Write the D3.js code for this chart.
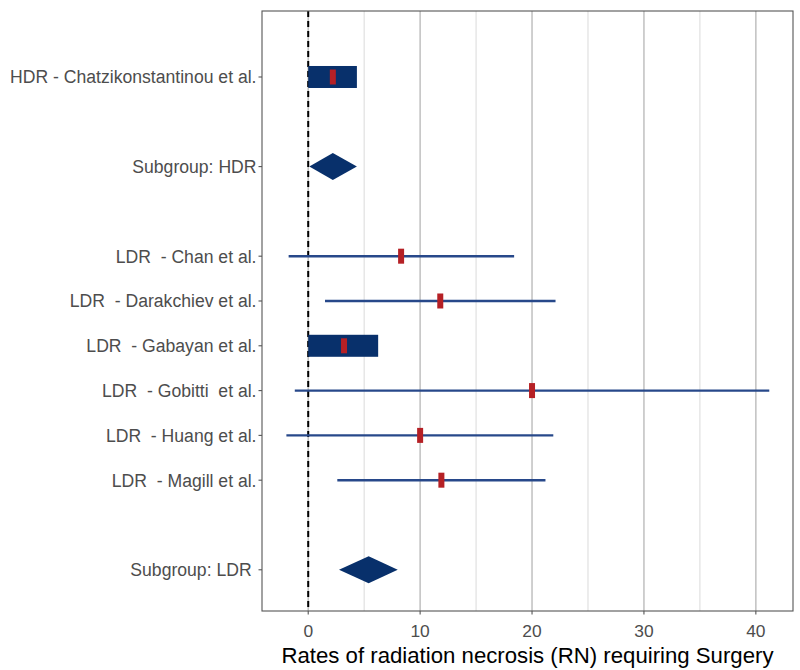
<!DOCTYPE html>
<html><head><meta charset="utf-8">
<script src="https://cdn.jsdelivr.net/npm/d3@7"></script>
<style>body{margin:0;background:#fff;} text{font-family:"Liberation Sans",Arial,sans-serif;}</style>
</head><body><svg id="c" width="800" height="670"></svg>
<script>
const labels = ["HDR - Chatzikonstantinou et al.", "Subgroup: HDR", "LDR  - Chan et al.", "LDR  - Darakchiev et al.", "LDR  - Gabayan et al.", "LDR  - Gobitti  et al.", "LDR  - Huang et al.", "LDR  - Magill et al.", "Subgroup: LDR "];
const rowPos = [1, 3, 5, 6, 7, 8, 9, 10, 12];
const kinds = ["bar", "diamond", "line", "line", "bar", "line", "line", "line", "diamond"];
const estimates = [2.2, 2.2, 8.3, 11.8, 3.2, 20.0, 10.0, 11.9, 5.4];
const lower = [0, 0.1, -1.75, 1.5, 0, -1.2, -1.95, 2.6, 2.75];
const upper = [4.35, 4.35, 18.4, 22.1, 6.25, 41.2, 21.9, 21.2, 8.0];
const xTicks = [0, 10, 20, 30, 40];
const xMinor = [5, 15, 25, 35];

const svg = d3.select("#c");
const L = 262, R = 793, T = 11, B = 611;
const x = d3.scaleLinear().domain([-4.13, 43.32]).range([L, R]);
const y = d3.scaleLinear().domain([-0.473, 12.92]).range([T, B]);

const g = svg.append("g");
g.selectAll(".minor").data(xMinor).join("line")
  .attr("x1", d => x(d)).attr("x2", d => x(d)).attr("y1", T).attr("y2", B)
  .attr("stroke", "#dedede").attr("stroke-width", 1.1);
g.selectAll(".major").data(xTicks).join("line")
  .attr("x1", d => x(d)).attr("x2", d => x(d)).attr("y1", T).attr("y2", B)
  .attr("stroke", "#c4c4c4").attr("stroke-width", 1.6);

g.append("line").attr("x1", x(0)).attr("x2", x(0)).attr("y1", T).attr("y2", B)
  .attr("stroke", "#000").attr("stroke-width", 2).attr("stroke-dasharray", "6,4");

const data = labels.map((l, i) => ({l, p: rowPos[i], k: kinds[i], e: estimates[i], lo: lower[i], hi: upper[i]}));
const navy = "#08306b";
g.selectAll(".ci").data(data.filter(d => d.k === "line")).join("line")
  .attr("x1", d => x(d.lo)).attr("x2", d => x(d.hi)).attr("y1", d => y(d.p)).attr("y2", d => y(d.p))
  .attr("stroke", "#27488a").attr("stroke-width", 2.4);
g.selectAll(".bar").data(data.filter(d => d.k === "bar")).join("rect")
  .attr("x", d => x(d.lo)).attr("width", d => x(d.hi) - x(d.lo))
  .attr("y", d => y(d.p) - 11).attr("height", 22).attr("fill", navy);
g.selectAll(".dia").data(data.filter(d => d.k === "diamond")).join("path")
  .attr("d", d => `M${x(d.lo)},${y(d.p)}L${x(d.e)},${y(d.p) - 13.5}L${x(d.hi)},${y(d.p)}L${x(d.e)},${y(d.p) + 13.5}Z`)
  .attr("fill", navy);
g.selectAll(".pt").data(data.filter(d => d.k !== "diamond")).join("rect")
  .attr("x", d => x(d.e) - 3).attr("width", 6)
  .attr("y", d => y(d.p) - 7.5).attr("height", 15).attr("fill", "#b52025");

svg.append("rect").attr("x", L).attr("y", T).attr("width", R - L).attr("height", B - T)
  .attr("fill", "none").attr("stroke", "#555").attr("stroke-width", 1.1);

const ya = svg.append("g");
ya.selectAll("line").data(data).join("line")
  .attr("x1", L - 3.5).attr("x2", L).attr("y1", d => y(d.p)).attr("y2", d => y(d.p))
  .attr("stroke", "#555").attr("stroke-width", 1.1);
ya.selectAll("text").data(data).join("text")
  .attr("x", L - 5.5).attr("y", d => y(d.p)).attr("dy", "0.36em")
  .attr("text-anchor", "end").attr("font-size", 17.6).attr("fill", "#4d4d4d")
  .style("white-space", "pre").text(d => d.l);

const xa = svg.append("g");
xa.selectAll("line").data(xTicks).join("line")
  .attr("x1", d => x(d)).attr("x2", d => x(d)).attr("y1", B).attr("y2", B + 3.5)
  .attr("stroke", "#555").attr("stroke-width", 1.1);
xa.selectAll("text").data(xTicks).join("text")
  .attr("x", d => x(d)).attr("y", 637).attr("text-anchor", "middle")
  .attr("font-size", 17.4).attr("fill", "#4d4d4d").text(d => d);

svg.append("text").attr("x", (L + R) / 2).attr("y", 663).attr("text-anchor", "middle")
  .attr("font-size", 22.2).attr("fill", "#000").text("Rates of radiation necrosis (RN) requiring Surgery");
</script></body></html>
